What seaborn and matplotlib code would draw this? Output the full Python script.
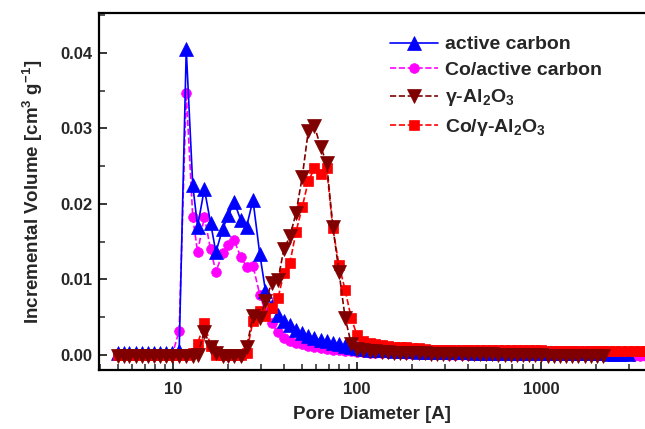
import numpy as np
import matplotlib
matplotlib.use("Agg")
import matplotlib.pyplot as plt
import seaborn as sns
from matplotlib.ticker import MultipleLocator, LogLocator, NullFormatter, FixedFormatter, FixedLocator, FormatStrFormatter

nan = np.nan

pore_diameter = [5.0, 5.4, 5.8, 6.3, 6.8, 7.3, 7.9, 8.5, 9.2, 9.9,
                 10.8, 11.8, 12.8, 13.6, 14.8, 16.0, 17.1, 18.6, 20.0, 21.5,
                 23.3, 25.1, 27.2, 29.6, 31.8, 34.3, 37.2, 40.0, 43.2, 46.6,
                 50.4, 54.3, 58.7, 63.4, 68.4, 73.9, 79.8, 86.2, 93.0, 100,
                 108, 117, 126, 136, 147, 159, 172, 185, 200, 216,
                 233, 252, 272, 294, 317, 343, 370, 400, 432, 466,
                 504, 544, 587, 634, 685, 740, 799, 863, 932, 1006,
                 1087, 1174, 1268, 1369, 1479, 1597, 1725, 1863, 2012, 2173,
                 2347, 2535, 2738, 2957, 3193, 3449, 3725]

active_carbon = [0.0002] * 10 + \
    [0.0005, 0.0405, 0.0225, 0.0170, 0.0220, 0.0175, 0.0136, 0.0167, 0.0185, 0.0203,
     0.0179, 0.0170, 0.0205, 0.0134, 0.0085, 0.0065, 0.0053, 0.0045, 0.0039, 0.0033,
     0.0029, 0.0025, 0.0022, 0.0020, 0.0018, 0.0016, 0.0014, 0.0012, 0.0010, 0.0009,
     0.0008, 0.0007, 0.0007, 0.0006, 0.0006, 0.0005, 0.0005, 0.0005, 0.0005, 0.0004,
     0.0004, 0.0004, 0.0004, 0.0004, 0.0004, 0.0004, 0.0004, 0.0004, 0.0003, 0.0003] + \
    [0.0003] * 10 + [0.0002] * 10 + [0.0001, 0.0001, 0.0001, 0.0001, nan, nan, nan]

co_active_carbon = [0.0] * 10 + \
    [0.0032, 0.0347, 0.0183, 0.0136, 0.0183, 0.0140, 0.0110, 0.0135, 0.0146, 0.0152,
     0.0130, 0.0117, 0.0118, 0.0080, 0.0057, 0.0042, 0.0030, 0.0023, 0.0019, 0.0016,
     0.0014, 0.0012, 0.0010, 0.0009, 0.0008, 0.0007, 0.0006, 0.0005, 0.0005, 0.0004,
     0.0004, 0.0003, 0.0003, 0.0003, 0.0002, 0.0002, 0.0002, 0.0001, 0.0001, 0.0001,
     0.0001, 0.0001, 0.0001, 0.0001, 0.0, 0.0, 0.0, 0.0, 0.0, 0.0] + \
    [0.0] * 24 + [-0.0001, -0.0001, -0.0001]

gamma_al2o3 = [-0.0002] * 10 + \
    [-0.0002, -0.0002, -0.0002, 0.0000, 0.0031, 0.0011, 0.0003, -0.0002, -0.0002, -0.0002,
     -0.0002, 0.0010, 0.0051, 0.0049, 0.0071, 0.0095, 0.0099, 0.0140, 0.0157, 0.0188,
     0.0236, 0.0296, 0.0303, 0.0276, 0.0254, 0.0170, 0.0110, 0.0049, 0.0015, 0.0008,
     0.0006, 0.0005, 0.0005, 0.0004, 0.0004, 0.0003, 0.0003, 0.0003, 0.0002, 0.0002,
     0.0002, 0.0001, 0.0001, 0.0001, 0.0001, 0.0001, 0.0001, 0.0001, 0.0001, 0.0001,
     0.0001, 0.0001] + [0.0] * 8 + [-0.0001] * 10 + [nan] * 7

co_gamma_al2o3 = [0.0] * 10 + \
    [0.0, 0.0, 0.0002, 0.0015, 0.0042, 0.0012, 0.0, 0.0, 0.0, 0.0,
     0.0, 0.0003, 0.0045, 0.0058, 0.0052, 0.0062, 0.0075, 0.0108, 0.0122, 0.0163,
     0.0196, 0.0230, 0.0247, 0.0240, 0.0247, 0.0168, 0.0119, 0.0086, 0.0049, 0.0026,
     0.0018, 0.0016, 0.0014, 0.0013, 0.0012, 0.0011, 0.0010, 0.0010, 0.0009, 0.0009,
     0.0008, 0.0007, 0.0007, 0.0007, 0.0007, 0.0007, 0.0006, 0.0006, 0.0006, 0.0006] + \
    [0.0006] * 10 + [0.0005] * 17

sns.set_style("ticks")
plt.rcParams['font.family'] = ['Liberation Sans', 'DejaVu Sans']
plt.rcParams['font.weight'] = 'bold'
plt.rcParams['axes.labelweight'] = 'bold'
plt.rcParams['mathtext.fontset'] = 'custom'
plt.rcParams['mathtext.rm'] = 'Liberation Sans:bold'
plt.rcParams['mathtext.it'] = 'Liberation Sans:bold'
plt.rcParams['mathtext.default'] = 'regular'

fig = plt.figure(figsize=(6.45, 4.29), dpi=100)
ax = fig.add_axes([99 / 645, 59 / 429, 546 / 645, 357 / 429])

# drawn back to front: magenta, blue, red, maroon
series = [
    (co_active_carbon, 'Co/active carbon', '#ff00ff', 'o', 7.0, '--'),
    (active_carbon, 'active carbon', '#0000ff', '^', 9.5, '-'),
    (co_gamma_al2o3, 'Co/γ-Al$_2$O$_3$', '#ff0000', 's', 6.8, '--'),
    (gamma_al2o3, 'γ-Al$_2$O$_3$', '#800000', 'v', 9.5, '--'),
]
for ys, lab, col, mk, ms, ls in series:
    sns.lineplot(x=pore_diameter, y=ys, ax=ax, color=col, marker=mk, markersize=ms,
                 markeredgecolor=col, markeredgewidth=0.5, linestyle=ls, linewidth=1.2,
                 estimator=None, sort=False, label=lab)

ax.set_xscale('log')
ax.set_xlim(3.96, 3675)
ax.set_ylim(-0.002, 0.0453)
ax.xaxis.set_major_locator(FixedLocator([10, 100, 1000]))
ax.xaxis.set_major_formatter(FixedFormatter(['10', '100', '1000']))
ax.xaxis.set_minor_locator(LogLocator(base=10, subs=np.arange(2, 10)))
ax.xaxis.set_minor_formatter(NullFormatter())
ax.yaxis.set_major_locator(MultipleLocator(0.01))
ax.yaxis.set_minor_locator(MultipleLocator(0.005))
ax.yaxis.set_major_formatter(FormatStrFormatter('%.2f'))

for s in ['left', 'bottom', 'top']:
    ax.spines[s].set_linewidth(1.6)
    ax.spines[s].set_color('black')
ax.spines['right'].set_visible(False)
ax.tick_params(which='major', direction='in', length=6, width=1.3, labelsize=12)
ax.tick_params(which='minor', direction='in', length=4, width=1.1)
ax.tick_params(axis='x', which='major', pad=9)
ax.tick_params(axis='y', which='major', pad=5)
ax.tick_params(axis='x', top=False)

ax.set_xlabel('Pore Diameter [A]', fontsize=13.5, labelpad=6)
ax.set_ylabel('Incremental Volume [cm$^{3}$ g$^{-1}$]', fontsize=13.5, labelpad=11)

handles, labels = ax.get_legend_handles_labels()
order = [1, 0, 3, 2]
ax.legend([handles[i] for i in order], [labels[i] for i in order],
          loc='upper left', bbox_to_anchor=(0.50, 0.985), frameon=False,
          fontsize=14, handlelength=2.5, handletextpad=0.35, labelspacing=0.42)

fig.savefig('out.png', dpi=100)
